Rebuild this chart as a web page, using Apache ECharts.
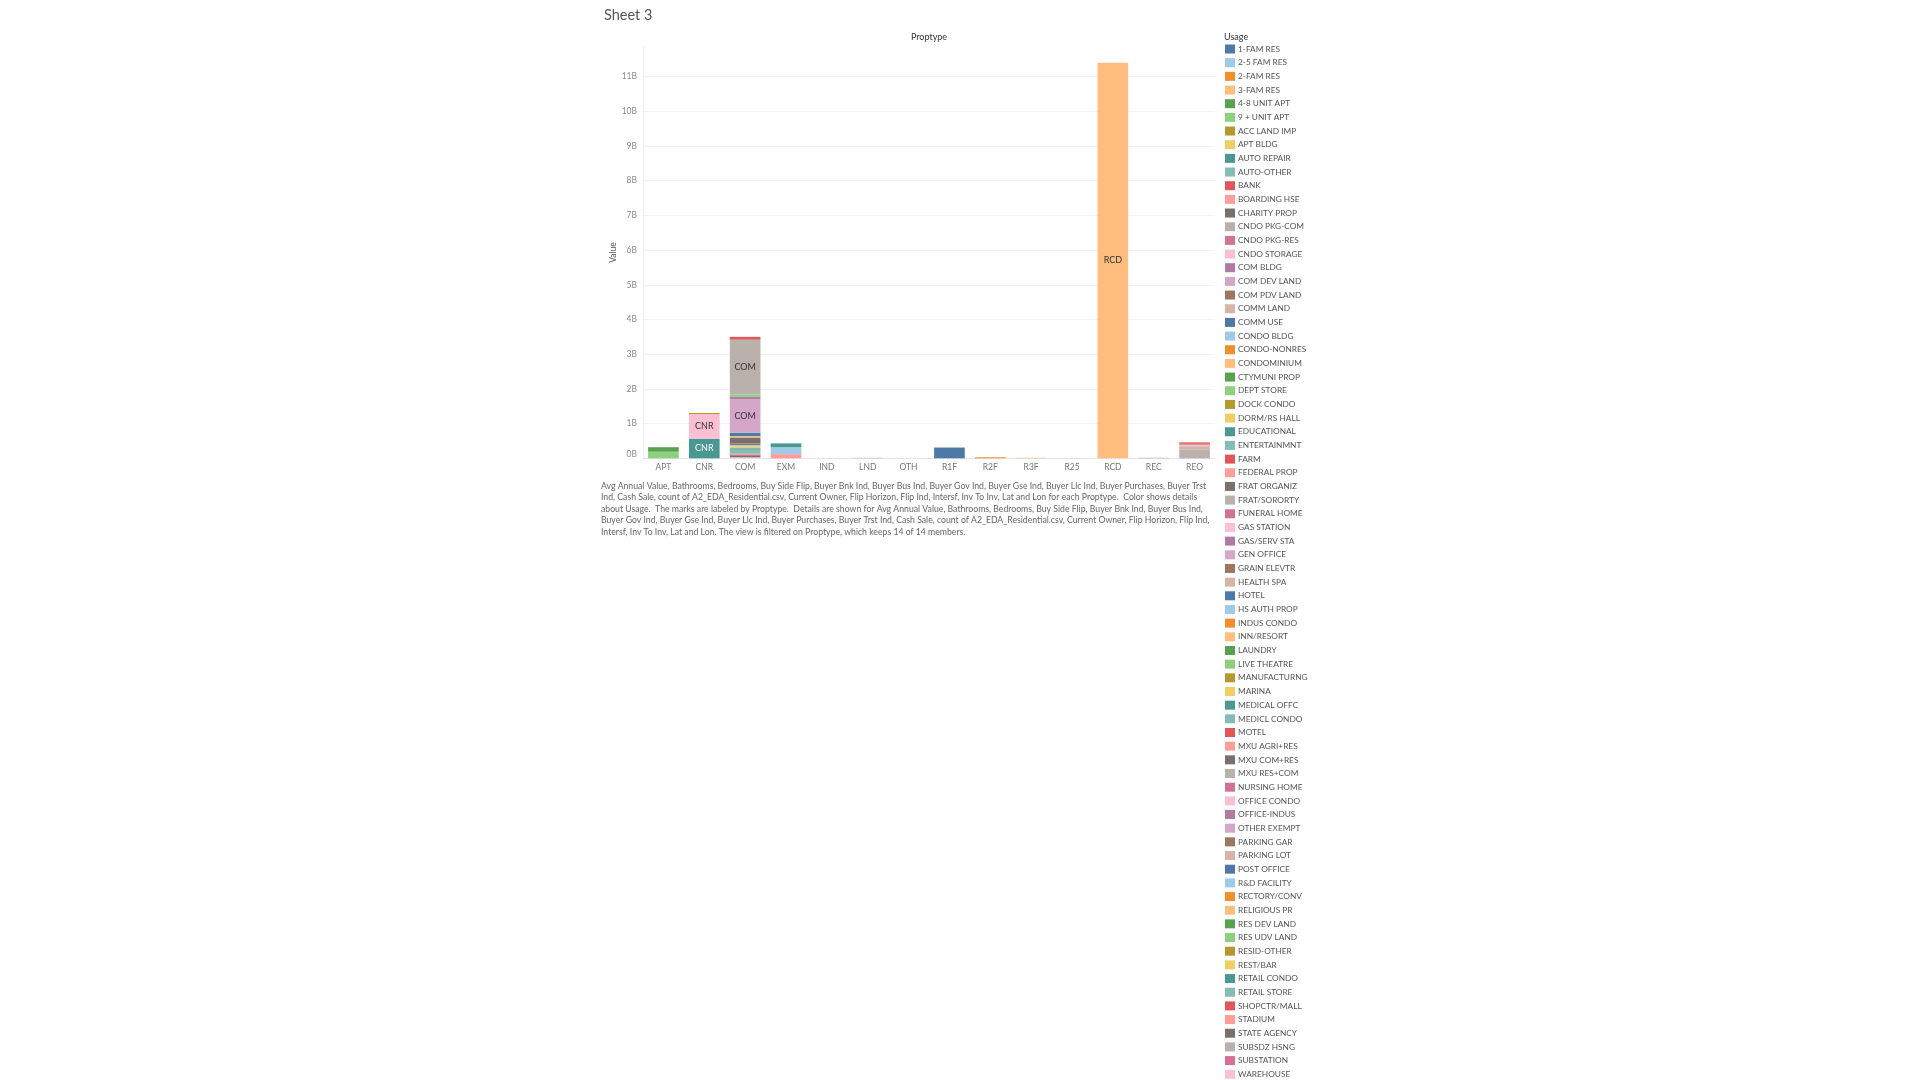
<!DOCTYPE html>
<html>
<head>
<meta charset="utf-8">
<script src="https://cdn.jsdelivr.net/npm/echarts@6/dist/echarts.min.js"></script>
<style>
  html, body { margin: 0; padding: 0; background: #ffffff; }
  #chart { width: 1920px; height: 1080px; }
</style>
</head>
<body>
<div id="chart"></div>
<script>
// ---- data (values in billions) ----
const categories = ['APT','CNR','COM','EXM','IND','LND','OTH','R1F','R2F','R3F','R25','RCD','REC','REO'];

const usages = ['1-FAM RES','2-5 FAM RES','2-FAM RES','3-FAM RES','4-8 UNIT APT','9 + UNIT APT','ACC LAND IMP','APT BLDG','AUTO REPAIR','AUTO-OTHER','BANK','BOARDING HSE','CHARITY PROP','CNDO PKG-COM','CNDO PKG-RES','CNDO STORAGE','COM BLDG','COM DEV LAND','COM PDV LAND','COMM LAND','COMM USE','CONDO BLDG','CONDO-NONRES','CONDOMINIUM','CTYMUNI PROP','DEPT STORE','DOCK CONDO','DORM/RS HALL','EDUCATIONAL','ENTERTAINMNT','FARM','FEDERAL PROP','FRAT ORGANIZ','FRAT/SORORTY','FUNERAL HOME','GAS STATION','GAS/SERV STA','GEN OFFICE','GRAIN ELEVTR','HEALTH SPA','HOTEL','HS AUTH PROP','INDUS CONDO','INN/RESORT','LAUNDRY','LIVE THEATRE','MANUFACTURNG','MARINA','MEDICAL OFFC','MEDICL CONDO','MOTEL','MXU AGRI+RES','MXU COM+RES','MXU RES+COM','NURSING HOME','OFFICE CONDO','OFFICE-INDUS','OTHER EXEMPT','PARKING GAR','PARKING LOT','POST OFFICE','R&D FACILITY','RECTORY/CONV','RELIGIOUS PR','RES DEV LAND','RES UDV LAND','RESID-OTHER','REST/BAR','RETAIL CONDO','RETAIL STORE','SHOPCTR/MALL','STADIUM','STATE AGENCY','SUBSDZ HSNG','SUBSTATION','WAREHOUSE'];

const palette = ['#4E79A7','#A0CBE8','#F28E2B','#FFBE7D','#59A14F','#8CD17D','#B6992D','#F1CE63','#499894','#86BCB6','#E15759','#FF9D9A','#79706E','#BAB0AC','#D37295','#FABFD2','#B07AA1','#D4A6C8','#9D7660','#D7B5A6'];

const aptStack = [['4-8 UNIT APT', 0.13], ['9 + UNIT APT', 0.19]];
const cnrStack = [['DOCK CONDO', 0.03], ['OFFICE CONDO', 0.71], ['RETAIL CONDO', 0.565]];
const comStack = [['BANK', 0.08], ['CNDO PKG-COM', 1.58], ['DEPT STORE', 0.07], ['GAS/SERV STA', 0.06], ['GEN OFFICE', 0.97], ['HOTEL', 0.10], ['INN/RESORT', 0.04], ['MXU COM+RES', 0.17], ['PARKING GAR', 0.05], ['R&D FACILITY', 0.04], ['REST/BAR', 0.05], ['RETAIL CONDO', 0.04], ['RETAIL STORE', 0.12], ['STADIUM', 0.04], ['STATE AGENCY', 0.06], ['WAREHOUSE', 0.03]];
const exmStack = [['EDUCATIONAL', 0.11], ['HS AUTH PROP', 0.20], ['STADIUM', 0.12]];
const indStack = [];
const lndStack = [['COMM LAND', 0.015]];
const othStack = [];
const r1fStack = [['1-FAM RES', 0.31]];
const r2fStack = [['2-FAM RES', 0.03]];
const r3fStack = [['3-FAM RES', 0.015]];
const r25Stack = [];
const rcdStack = [['CONDOMINIUM', 11.40]];
const recStack = [['FRAT/SORORTY', 0.015]];
const reoStack = [['2-FAM RES', 0.02], ['CNDO PKG-RES', 0.06], ['CNDO STORAGE', 0.04], ['PARKING LOT', 0.09], ['SUBSDZ HSNG', 0.26]];

const yTicksMax = 11.86;
const captionLines = [
  'Avg Annual Value, Bathrooms, Bedrooms, Buy Side Flip, Buyer Bnk Ind, Buyer Bus Ind, Buyer Gov Ind, Buyer Gse Ind, Buyer Llc Ind, Buyer Purchases, Buyer Trst',
  'Ind, Cash Sale, count of A2_EDA_Residential.csv, Current Owner, Flip Horizon, Flip Ind, Intersf, Inv To Inv, Lat and Lon for each Proptype.  Color shows details',
  'about Usage.  The marks are labeled by Proptype.  Details are shown for Avg Annual Value, Bathrooms, Bedrooms, Buy Side Flip, Buyer Bnk Ind, Buyer Bus Ind,',
  'Buyer Gov Ind, Buyer Gse Ind, Buyer Llc Ind, Buyer Purchases, Buyer Trst Ind, Cash Sale, count of A2_EDA_Residential.csv, Current Owner, Flip Horizon, Flip Ind,',
  'Intersf, Inv To Inv, Lat and Lon. The view is filtered on Proptype, which keeps 14 of 14 members.'
];

// ---- build ----
const stacks = [aptStack, cnrStack, comStack, exmStack, indStack, lndStack, othStack, r1fStack, r2fStack, r3fStack, r25Stack, rcdStack, recStack, reoStack];
const FONT = 'Lato, "Noto Sans", sans-serif';

function lum(hex) {
  const r = parseInt(hex.slice(1,3),16), g = parseInt(hex.slice(3,5),16), b = parseInt(hex.slice(5,7),16);
  return 0.2126*r + 0.7152*g + 0.0722*b;
}

const series = [];
for (let i = usages.length - 1; i >= 0; i--) {
  const name = usages[i];
  const color = palette[i % 20];
  const data = categories.map((cat, ci) => {
    const e = stacks[ci].find(p => p[0] === name);
    return e ? e[1] : null;
  });
  series.push({
    name: name,
    type: 'bar',
    stack: 'total',
    barCategoryGap: '25%',
    itemStyle: { color: color },
    label: {
      show: true,
      position: 'inside',
      fontFamily: FONT,
      fontSize: 9,
      color: lum(color) < 150 ? '#ffffff' : '#333333',
      formatter: p => (p.value != null && p.value >= 0.5) ? categories[p.dataIndex] : ''
    },
    emphasis: { disabled: true },
    data: data
  });
}

const chart = echarts.init(document.getElementById('chart'), null, { renderer: 'canvas' });
chart.setOption({
  animation: false,
  backgroundColor: '#ffffff',
  textStyle: { fontFamily: FONT },
  grid: { left: 643, right: 705, top: 46.7, bottom: 621.7, containLabel: false },
  xAxis: {
    type: 'category',
    data: categories,
    axisLine: { show: true, lineStyle: { color: '#e4e4e4' } },
    axisTick: { show: false },
    axisLabel: { fontFamily: FONT, fontSize: 8.5, color: '#777777', margin: 4 },
    splitLine: { show: false }
  },
  yAxis: {
    type: 'value',
    min: 0,
    max: yTicksMax,
    interval: 1,
    name: 'Value',
    nameLocation: 'middle',
    nameGap: 24.5,
    nameTextStyle: { fontFamily: FONT, fontSize: 8.5, color: '#555555' },
    axisLine: { show: true, lineStyle: { color: '#eeeeee' } },
    axisTick: { show: false },
    axisLabel: {
      fontFamily: FONT, fontSize: 8.5, color: '#8a8a8a', margin: 6, showMaxLabel: false,
      formatter: v => v === 0 ? '{z|0B}' : v + 'B',
      rich: { z: { fontFamily: FONT, fontSize: 8.5, color: '#8a8a8a', padding: [0, 0, 8, 0] } }
    },
    splitLine: { show: true, showMaxLine: false, lineStyle: { color: '#f2f2f2' } }
  },
  legend: {
    type: 'plain',
    orient: 'vertical',
    left: 1225,
    top: 44.5,
    height: 1200,
    padding: 0,
    itemWidth: 10,
    itemHeight: 9,
    itemGap: 4.67,
    icon: 'rect',
    selectedMode: false,
    data: usages,
    textStyle: { fontFamily: FONT, fontSize: 8.3, color: '#555555', lineHeight: 9, padding: [0,0,0,-2] }
  },
  graphic: [
    { type: 'text', left: 604, top: 7.5, style: { text: 'Sheet 3', font: '14.5px ' + FONT, fill: '#555555' } },
    { type: 'text', x: 929, y: 37, style: { text: 'Proptype', font: '9px ' + FONT, fill: '#333333', align: 'center', verticalAlign: 'middle' } },
    { type: 'text', x: 1224, y: 36.7, style: { text: 'Usage', font: '9px ' + FONT, fill: '#333333', align: 'left', verticalAlign: 'middle' } },
    { type: 'text', x: 601, y: 480.5, style: { text: captionLines.join('\n'), font: '8.7px ' + FONT, fill: '#666666', lineHeight: 11.4, align: 'left', verticalAlign: 'top' } }
  ],
  series: series
});
</script>
</body>
</html>
